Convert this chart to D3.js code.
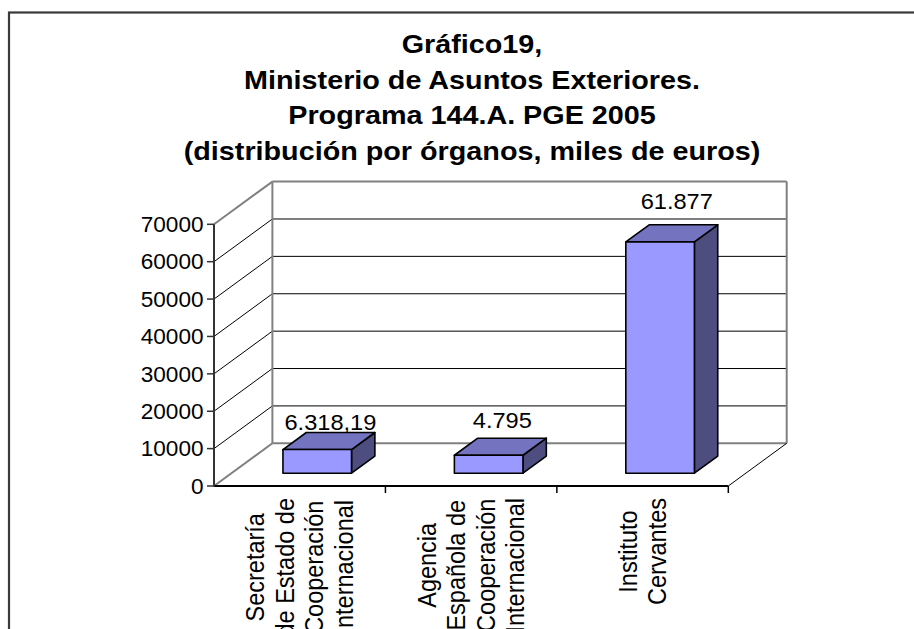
<!DOCTYPE html>
<html>
<head>
<meta charset="utf-8">
<script src="https://cdn.jsdelivr.net/npm/d3@7/dist/d3.min.js"></script>
<style>
  html, body { margin: 0; padding: 0; background: #fff; }
  svg { display: block; }
  text { font-family: "Liberation Sans", Arial, sans-serif; fill: #000; }
</style>
</head>
<body>
<svg id="chart" width="914" height="629"></svg>
<script>
// ---- data ----
const categories = ["SECI", "AECI", "Cervantes"];
const categoryLines = [
  ["Secretaría", "de Estado de", "Cooperación", "Internacional"],
  ["Agencia", "Española de", "Cooperación", "Internacional"],
  ["Instituto", "Cervantes"]
];
const values = [6318.19, 4795, 61877];
const valueLabels = ["6.318,19", "4.795", "61.877"];
const yTicks = [0, 10000, 20000, 30000, 40000, 50000, 60000, 70000];
const titleLines = [
  "Gráfico19,",
  "Ministerio de Asuntos Exteriores.",
  "Programa 144.A. PGE 2005",
  "(distribución por órganos, miles de euros)"
];

// ---- layout ----
const svg = d3.select("#chart");

// outer frame (extends past the window on right/bottom)
svg.append("rect")
  .attr("x", 9).attr("y", 12.5)
  .attr("width", 1000).attr("height", 800)
  .attr("fill", "none").attr("stroke", "#3a3a3a").attr("stroke-width", 2.2);

// title (text is slightly stretched horizontally, as in the reference)
titleLines.forEach((t, i) => {
  svg.append("text")
    .attr("transform", `translate(472,${53 + i * 35.5}) scale(1.15,1)`)
    .attr("text-anchor", "middle")
    .style("font-weight", "bold").style("font-size", "25px")
    .text(t);
});

// 3D geometry
const depthX = 58.4, depthY = -42.7;       // floor depth vector
const yFront = d3.scaleLinear().domain([0, 70000]).range([486, 224.3]);
const xFront = d3.scaleLinear().domain([0, 1]).range([214, 728.3]);
const px = (u, f) => xFront(u) + f * depthX;
const py = (v, f) => yFront(v) + f * depthY;

const band = d3.scaleBand().domain(categories).range([0, 1]).padding(0);

const gray = "#808080";
const line = (x1, y1, x2, y2, color, w) =>
  svg.append("line").attr("x1", x1).attr("y1", y1).attr("x2", x2).attr("y2", y2)
    .attr("stroke", color).attr("stroke-width", w);

// gridlines (left wall diagonals + back wall horizontals)
yTicks.forEach(t => {
  const edge = (t === 0 || t === 70000);
  if (t !== 0) {
    line(px(0, 0), yFront(t), px(0, 1), py(t, 1), edge ? gray : "#000", edge ? 2 : 1);
  }
  line(px(0, 1), py(t, 1), px(1, 1), py(t, 1), edge ? gray : "#000", edge ? 2 : 1);
});
// floor left diagonal
line(px(0, 0), yFront(0), px(0, 1), py(0, 1), gray, 2);
// back wall verticals
line(px(0, 1), py(0, 1), px(0, 1), py(70000, 1), gray, 2);
line(px(1, 1), py(0, 1), px(1, 1), py(70000, 1), gray, 2);
// floor right diagonal
line(px(1, 0), yFront(0), px(1, 1), py(0, 1), "#000", 1);
// floor front edge
line(px(0, 0), yFront(0), px(1, 0), yFront(0), "#000", 2);

// bars: occupy 0.3..0.7 of each band and 0.3..0.7 of floor depth
const f0 = 0.3, f1 = 0.7;
const bars = svg.append("g");
values.forEach((v, i) => {
  const c = categories[i];
  const u0 = band(c) + band.bandwidth() * 0.3;
  const u1 = band(c) + band.bandwidth() * 0.7;
  const xl = px(u0, f0), xr = px(u1, f0);
  const xlb = px(u0, f1), xrb = px(u1, f1);
  const yb = py(0, f0), yt = py(v, f0);
  const ybb = py(0, f1), ytb = py(v, f1);
  const g = bars.append("g").attr("stroke", "#000").attr("stroke-width", 1.6)
    .attr("stroke-linejoin", "round");
  g.append("polygon").attr("fill", "#4d4d80")
    .attr("points", [[xr, yt], [xrb, ytb], [xrb, ybb], [xr, yb]].join(" "));
  g.append("polygon").attr("fill", "#7373bf")
    .attr("points", [[xl, yt], [xr, yt], [xrb, ytb], [xlb, ytb]].join(" "));
  g.append("polygon").attr("fill", "#9999ff")
    .attr("points", [[xl, yt], [xr, yt], [xr, yb], [xl, yb]].join(" "));
});

// value labels (above the top face, with Excel-like nudges)
const labelNudge = [[1.5, -2.5], [2, -10], [5, -15.4]];
values.forEach((v, i) => {
  const c = categories[i];
  const um = band(c) + band.bandwidth() / 2;
  const cx = px(um, 0.5) + labelNudge[i][0];
  const cy = py(v, f1) + labelNudge[i][1];
  svg.append("text")
    .attr("transform", `translate(${cx},${cy}) scale(1.05,1)`)
    .attr("text-anchor", "middle").style("font-size", "22.5px")
    .text(valueLabels[i]);
});

// front value axis
line(px(0, 0), yFront(0) + 0.5, px(0, 0), yFront(70000), "#333", 2);
yTicks.forEach(t => {
  line(207, yFront(t), px(0, 0), yFront(t), "#333", 1.5);
  svg.append("text")
    .attr("transform", `translate(203.5,${yFront(t)}) scale(1.05,1)`)
    .attr("dy", "0.36em")
    .attr("text-anchor", "end").style("font-size", "21.5px")
    .text(d3.format("d")(t));
});

// category tick marks on front floor edge
categories.forEach(c => {
  const u = band(c) + band.bandwidth();
  line(px(u, 0), yFront(0), px(u, 0), yFront(0) + 7, "#000", 1.5);
});

// category labels (rotated, multi-line, centered on band)
const lineH = 29.5, capOff = 9, labelTop = 498, catFont = "23.5px", catStretch = 1.1;
categoryLines.forEach((lines, i) => {
  const c = categories[i];
  const n = lines.length;
  const tmp = svg.append("text").style("font-size", catFont);
  let maxW = 0;
  lines.forEach(l => { tmp.text(l); maxW = Math.max(maxW, tmp.node().getComputedTextLength()); });
  tmp.remove();
  const cy = labelTop + maxW / 2;
  const center = px(band(c) + band.bandwidth() / 2, 0);
  lines.forEach((l, j) => {
    const bx = center + (j - (n - 1) / 2) * lineH + capOff;
    svg.append("text")
      .attr("transform", `translate(${bx},${cy}) scale(${catStretch},1) rotate(-90)`)
      .attr("text-anchor", "middle").style("font-size", catFont)
      .text(l);
  });
});
</script>
</body>
</html>
